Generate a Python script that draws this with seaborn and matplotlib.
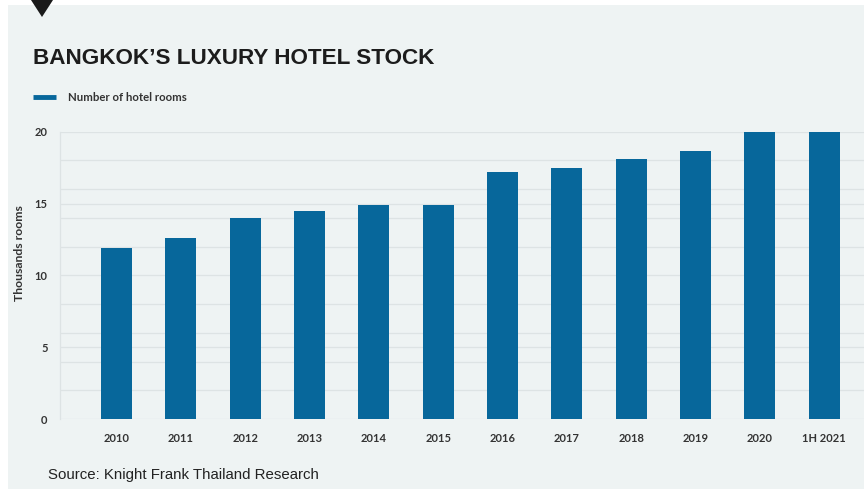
import matplotlib
matplotlib.use("Agg")
import matplotlib.pyplot as plt
from matplotlib.patches import Rectangle, Polygon
import seaborn as sns
import pandas as pd

# Luxury hotel stock in Bangkok, thousands of rooms
years = ["2010", "2011", "2012", "2013", "2014", "2015", "2016",
         "2017", "2018", "2019", "2020", "1H 2021"]
rooms = [11.9, 12.6, 14.0, 14.5, 14.9, 14.9, 17.2, 17.5, 18.1, 18.65, 20.0, 20.0]
y_ticks = [0, 5, 10, 15, 20]

title = "BANGKOK\u2019S LUXURY HOTEL STOCK"
legend_label = "Number of hotel rooms"
y_label = "Thousands rooms"
source = "Source: Knight Frank Thailand Research"

BAR = "#07679b"
PANEL = "#eef3f3"
GRID = "#dde3e4"
TXT = "#333333"

df = pd.DataFrame({"year": years, "rooms": rooms})

sns.set_theme(style="white")
plt.rcParams["font.family"] = ["Lato", "DejaVu Sans"]

W, H = 864, 493
fig = plt.figure(figsize=(W / 100, H / 100), dpi=100)
fig.patch.set_facecolor("white")

# light panel behind everything
fig.add_artist(Rectangle((8 / W, 1 - 489 / H), 1 - 8 / W, (489 - 5) / H,
                         transform=fig.transFigure, facecolor=PANEL,
                         edgecolor="none", zorder=0))
# small marker triangle at the top
fig.add_artist(Polygon([(31 / W, 1 - 0 / H), (53 / W, 1 - 0 / H), (42 / W, 1 - 17 / H)],
                       closed=True, transform=fig.transFigure,
                       facecolor="#1a1a1a", edgecolor="none", zorder=1))

left, right = 60, 864
bottom, top = 419, 131.7
ax = fig.add_axes([left / W, 1 - bottom / H, (right - left) / W, (bottom - top) / H])
ax.set_facecolor("none")

sns.barplot(data=df, x="year", y="rooms", color=BAR, width=0.48,
            saturation=1, linewidth=0, edgecolor="none", ax=ax, zorder=3)

ax.set_ylim(0, 20)
ax.set_xlim(-0.88, 11.62)
ax.set_yticks(range(0, 21, 2), minor=True)
ax.set_yticks(y_ticks)
ax.set_yticklabels([str(t) for t in y_ticks])
ax.grid(axis="y", which="both", color=GRID, linewidth=0.9, zorder=0)
ax.grid(axis="x", visible=False)
for s in ["top", "right", "bottom"]:
    ax.spines[s].set_visible(False)
ax.spines["left"].set_color(GRID)
ax.spines["left"].set_linewidth(0.9)

ax.tick_params(axis="both", which="both", length=0)
ax.tick_params(axis="y", pad=9, labelsize=8, labelcolor=TXT)
ax.tick_params(axis="x", pad=10, labelsize=8, labelcolor=TXT)
for lbl in ax.get_xticklabels() + ax.get_yticklabels():
    lbl.set_fontweight("bold")
    lbl.set_horizontalalignment("center")
for lbl in ax.get_yticklabels():
    lbl.set_horizontalalignment("right")

ax.set_xlabel("")
ax.set_ylabel("")
fig.text(20 / W, 1 - 253 / H, y_label, rotation=90, ha="center", va="center",
         fontsize=8.8, fontweight="bold", color=TXT)

fig.text(33 / W, 1 - 58 / H, title, ha="left", va="center",
         fontsize=16.2, fontweight="bold", color="#1c1c1c",
         family=["Liberation Sans", "DejaVu Sans"])

# legend swatch and label
fig.add_artist(plt.Line2D([33 / W, 56 / W], [1 - 97 / H, 1 - 97 / H],
                          transform=fig.transFigure, color=BAR, linewidth=3.5,
                          solid_capstyle="butt"))
fig.text(68 / W, 1 - 97 / H, legend_label, ha="left", va="center",
         fontsize=8.2, fontweight="bold", color=TXT)

fig.text(48 / W, 1 - 475 / H, source, ha="left", va="center",
         fontsize=10.8, color="#222222", family=["Liberation Sans", "DejaVu Sans"])

fig.savefig("out.png", dpi=100, facecolor=fig.get_facecolor())
